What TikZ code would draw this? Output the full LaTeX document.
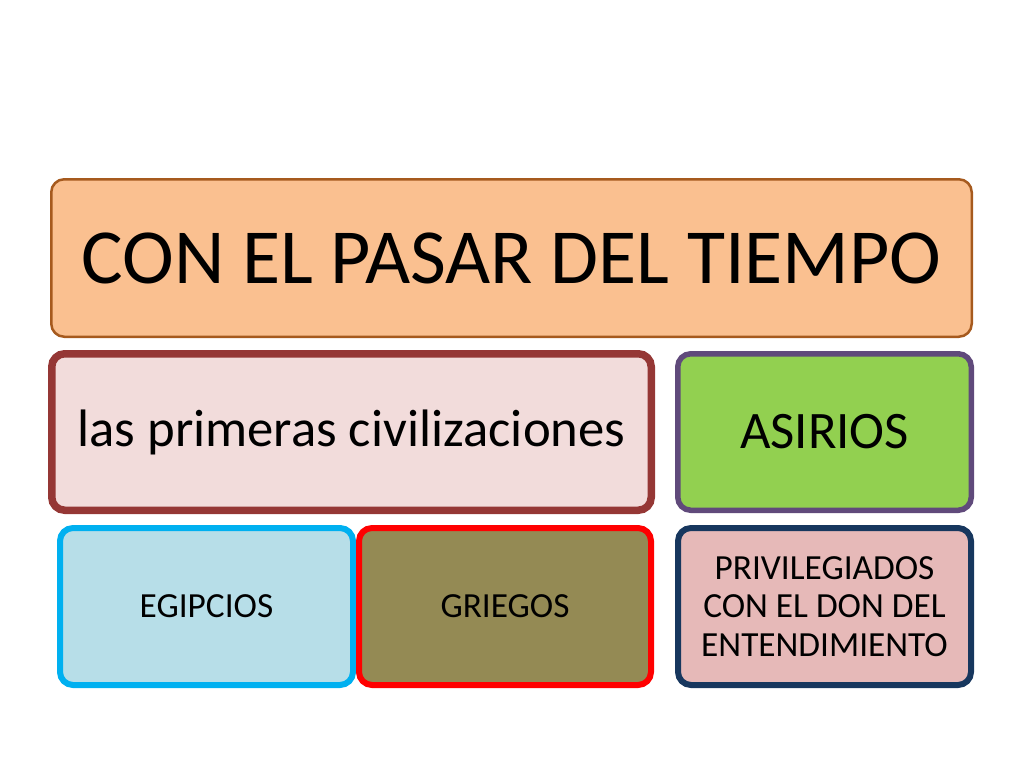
\documentclass[tikz,border=0pt]{standalone}
\usepackage{fontspec}
\setmainfont{Carlito}
\usepackage{xcolor}
\definecolor{peach}{HTML}{FAC090}
\definecolor{peachline}{HTML}{A65A1E}
\definecolor{rosa}{HTML}{F2DCDB}
\definecolor{rosaline}{HTML}{953735}
\definecolor{verde}{HTML}{92D050}
\definecolor{verdeline}{HTML}{604A7B}
\definecolor{celeste}{HTML}{B7DEE8}
\definecolor{celesteline}{HTML}{00B0F0}
\definecolor{oliva}{HTML}{948A54}
\definecolor{rosado}{HTML}{E6B9B8}
\definecolor{navy}{HTML}{17375E}

\begin{document}
\begin{tikzpicture}[x=1pt,y=-1pt,
    caja/.style={rounded corners=13pt,inner sep=0pt,align=center,text=black},
    grande/.style={font=\fontsize{78}{93}\selectfont},
    media/.style={font=\fontsize{52.7}{63}\selectfont},
    chica/.style={font=\fontsize{35.3}{38.5}\selectfont}]

	\useasboundingbox (0,0) rectangle (1024,768);

	\node[caja,grande,draw=peachline,fill=peach,line width=2.5pt,
	      minimum width=920.5pt,minimum height=157.5pt] (tiempo) at (511.5,258) {CON EL PASAR DEL TIEMPO};

	\node[caja,media,draw=rosaline,fill=rosa,line width=7.5pt,
	      minimum width=599.5pt,minimum height=156.5pt] (civ) at (351.5,432) {las primeras civilizaciones};
	\node[caja,media,draw=verdeline,fill=verde,line width=5.5pt,
	      minimum width=293.5pt,minimum height=156.5pt] (asirios) at (824.5,432) {ASIRIOS};

	\node[caja,chica,draw=celesteline,fill=celeste,line width=6pt,
	      minimum width=293pt,minimum height=157pt] (egipcios) at (206.5,606.5) {EGIPCIOS};
	\node[caja,chica,draw=red,fill=oliva,line width=6pt,
	      minimum width=292pt,minimum height=157pt] (griegos) at (505,606.5) {GRIEGOS};
	\node[caja,chica,draw=navy,fill=rosado,line width=6pt,
	      minimum width=293pt,minimum height=157pt] (priv) at (824.5,606.5) {PRIVILEGIADOS\\CON EL DON DEL\\ENTENDIMIENTO};

\end{tikzpicture}
\end{document}
